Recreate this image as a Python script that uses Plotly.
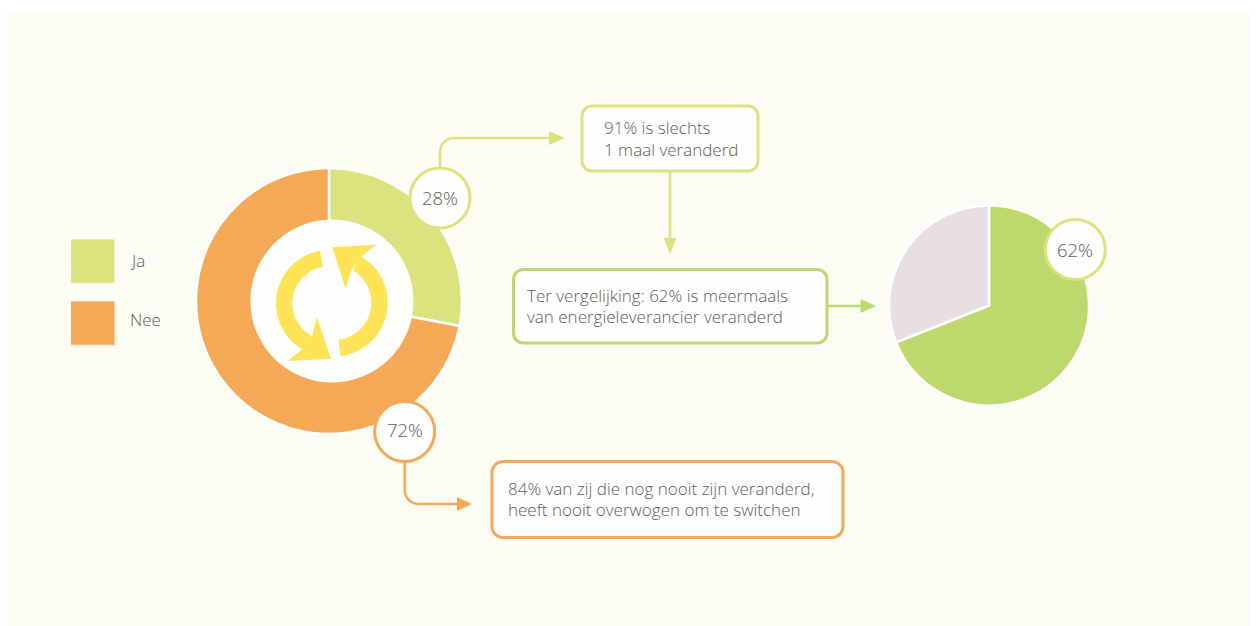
import numpy as np
import plotly.graph_objects as go

W, H = 1256, 626

# ---- data ----
donut_labels = ["Ja", "Nee"]
donut_values = [28, 72]
pie_labels = ["Meermaals", "Overig"]
pie_values = [69, 31]   # slice as drawn in the picture
donut_badges = ["28%", "72%"]
pie_badge = "62%"
box_lines_top = ["91% is slechts", "1 maal veranderd"]
box_lines_mid = ["Ter vergelijking: 62% is meermaals", "van energieleverancier veranderd"]
box_lines_low = ["84% van zij die nog nooit zijn veranderd,", "heeft nooit overwogen om te switchen"]

# ---- styles ----
BG = "#fcfcf5"
WHITE = "#fefefc"
LIME = "#dbe37f"
LIME_EDGE = "#eef1bd"
GREEN = "#bdd86c"
ORANGE = "#f5a956"
ORANGE_EDGE = "#fbd2a3"
MAUVE = "#e8dfe2"
YELLOW = "#fde355"
TEXT = "#5c5c5c"
FONT = "Open Sans"
FS = 17


def X(v):
    return v / W


def Y(v):
    return 1 - v / H


def P(pts, close=False):
    s = "M " + " L ".join(f"{X(a):.5f},{Y(b):.5f}" for a, b in pts)
    return s + (" Z" if close else "")


shapes = []


def rect(x0, y0, x1, y1, fill):
    shapes.append(dict(type="rect", xref="paper", yref="paper", x0=X(x0), x1=X(x1), y0=Y(y0), y1=Y(y1),
                       fillcolor=fill, line_width=0, layer="below"))


def circle(cx, cy, r, fill, stroke=None, w=3):
    shapes.append(dict(type="circle", xref="paper", yref="paper", x0=X(cx - r), x1=X(cx + r), y0=Y(cy - r),
                       y1=Y(cy + r), fillcolor=fill, line=dict(color=stroke or fill, width=w if stroke else 0)))


def rbox(x0, y0, x1, y1, r, stroke):
    t = np.linspace(0, np.pi / 2, 9)
    pts = []
    for cx, cy, a in ((x1 - r, y0 + r, -np.pi / 2), (x1 - r, y1 - r, 0), (x0 + r, y1 - r, np.pi / 2),
                      (x0 + r, y0 + r, np.pi)):
        pts += [(cx + r * np.cos(a + k), cy + r * np.sin(a + k)) for k in t]
    shapes.append(dict(type="path", xref="paper", yref="paper", path=P(pts, True), fillcolor=WHITE,
                       line=dict(color=stroke, width=3)))


def line(pts, color, w=2.5):
    shapes.append(dict(type="path", xref="paper", yref="paper", path=P(pts),
                       line=dict(color=color, width=w), fillcolor="rgba(0,0,0,0)"))


def poly(pts, color):
    shapes.append(dict(type="path", xref="paper", yref="paper", path=P(pts, True), fillcolor=color, line_width=0))


def corner(cx, cy, r, a0, a1, n=10):
    return [(cx + r * np.cos(a), cy + r * np.sin(a)) for a in np.linspace(a0, a1, n)]


# background panel
rect(7, 12, 1250, 626, BG)

# legend swatches
rect(71, 239.5, 115, 283.5, LIME_EDGE)
rect(71, 239.5, 114, 282.5, LIME)
rect(71, 301.5, 115, 345.5, ORANGE_EDGE)
rect(71, 301.5, 114, 344.5, ORANGE)

# donut hole
circle(332, 301, 81.5, WHITE)

# recycle icon (at 3x: offset 190,160)
def Z(a, b):
    return (190 + a / 3, 160 + b / 3)


def arc_band(cx, cy, a0, a1, r_out, r_in):
    ang = np.radians(np.linspace(a0, a1, 30))
    o = [Z(cx + r_out * np.cos(a), cy + r_out * np.sin(a)) for a in ang]
    i = [Z(cx + r_in * np.cos(a), cy + r_in * np.sin(a)) for a in ang[::-1]]
    return o + i


# right arc and head
poly(arc_band(432, 428, -60, 83, 161, 112), YELLOW)
poly([Z(558, 254), Z(427, 262), Z(467, 386), Z(484, 330), Z(513, 290)], YELLOW)
# left arc and head
poly(arc_band(418, 430, 119, 260, 160, 111), YELLOW)
poly([Z(292, 603), Z(423, 596), Z(380, 472), Z(367, 525), Z(337, 568)], YELLOW)

# connectors
line([(440, 170), (440, 152)] + corner(454, 152, 14, np.pi, 1.5 * np.pi) + [(550, 138)], LIME)
poly([(565, 138), (549, 131), (549, 145)], LIME)
line([(670, 171), (670, 239)], LIME)
poly([(670, 254), (663.5, 238), (676.5, 238)], LIME)
line([(827, 306), (862, 306)], GREEN)
poly([(876, 306), (860.5, 299), (860.5, 313)], GREEN)
line([(404.7, 461), (404.7, 490)] + corner(418.7, 490, 14, np.pi, 0.5 * np.pi) + [(458, 504)], ORANGE)
poly([(472, 504), (457, 497), (457, 511)], ORANGE)

# boxes
rbox(582, 106, 758, 171, 10, LIME)
rbox(513.5, 269.5, 827, 343, 10, GREEN)
rbox(492, 461.5, 843, 537.5, 11, ORANGE)

# badges
circle(440, 198, 30, WHITE, LIME)
circle(404.7, 431.5, 30, WHITE, ORANGE)
circle(1075.3, 249.5, 30, WHITE, LIME)

annotations = []


def label(x, y, text, anchor="left", size=FS):
    annotations.append(dict(xref="paper", yref="paper", x=X(x), y=Y(y), text=text, showarrow=False,
                            xanchor=anchor, yanchor="middle", borderpad=0,
                            font=dict(family=FONT, size=size, color=TEXT, weight=300)))


label(129, 260, donut_labels[0])
label(129, 319.5, donut_labels[1])
label(439.5, 197.5, donut_badges[0], "center", 18.5)
label(404.5, 429.5, donut_badges[1], "center", 18.5)
label(1075, 249.5, pie_badge, "center", 18.5)
for i, t in enumerate(box_lines_top):
    label(603, 127.6 + 21.6 * i, t)
for i, t in enumerate(box_lines_mid):
    label(526, 295 + 21 * i, t)
for i, t in enumerate(box_lines_low):
    label(507, 488 + 21 * i, t)

fig = go.Figure()
fig.add_trace(go.Pie(labels=donut_labels, values=donut_values, hole=0.58, sort=False, direction="clockwise",
                     rotation=0, textinfo="none", hoverinfo="skip", showlegend=False,
                     marker=dict(colors=[LIME, ORANGE], line=dict(color=WHITE, width=2.5)),
                     domain=dict(x=[X(329 - 133), X(329 + 133)], y=[Y(301 + 133), Y(301 - 133)])))
fig.add_trace(go.Pie(labels=pie_labels, values=pie_values, sort=False, direction="clockwise",
                     rotation=0, textinfo="none", hoverinfo="skip", showlegend=False,
                     marker=dict(colors=[GREEN, MAUVE], line=dict(color=WHITE, width=2.5)),
                     domain=dict(x=[X(989 - 100), X(989 + 100)], y=[Y(305.5 + 100), Y(305.5 - 100)])))
fig.update_layout(width=W, height=H, margin=dict(l=0, r=0, t=0, b=0), paper_bgcolor="#ffffff",
                  plot_bgcolor="#ffffff", showlegend=False, shapes=shapes, annotations=annotations)
fig.write_html("out.html", config=dict(displayModeBar=False),
               post_script="document.body.style.margin='0';document.body.style.overflow='hidden';")
